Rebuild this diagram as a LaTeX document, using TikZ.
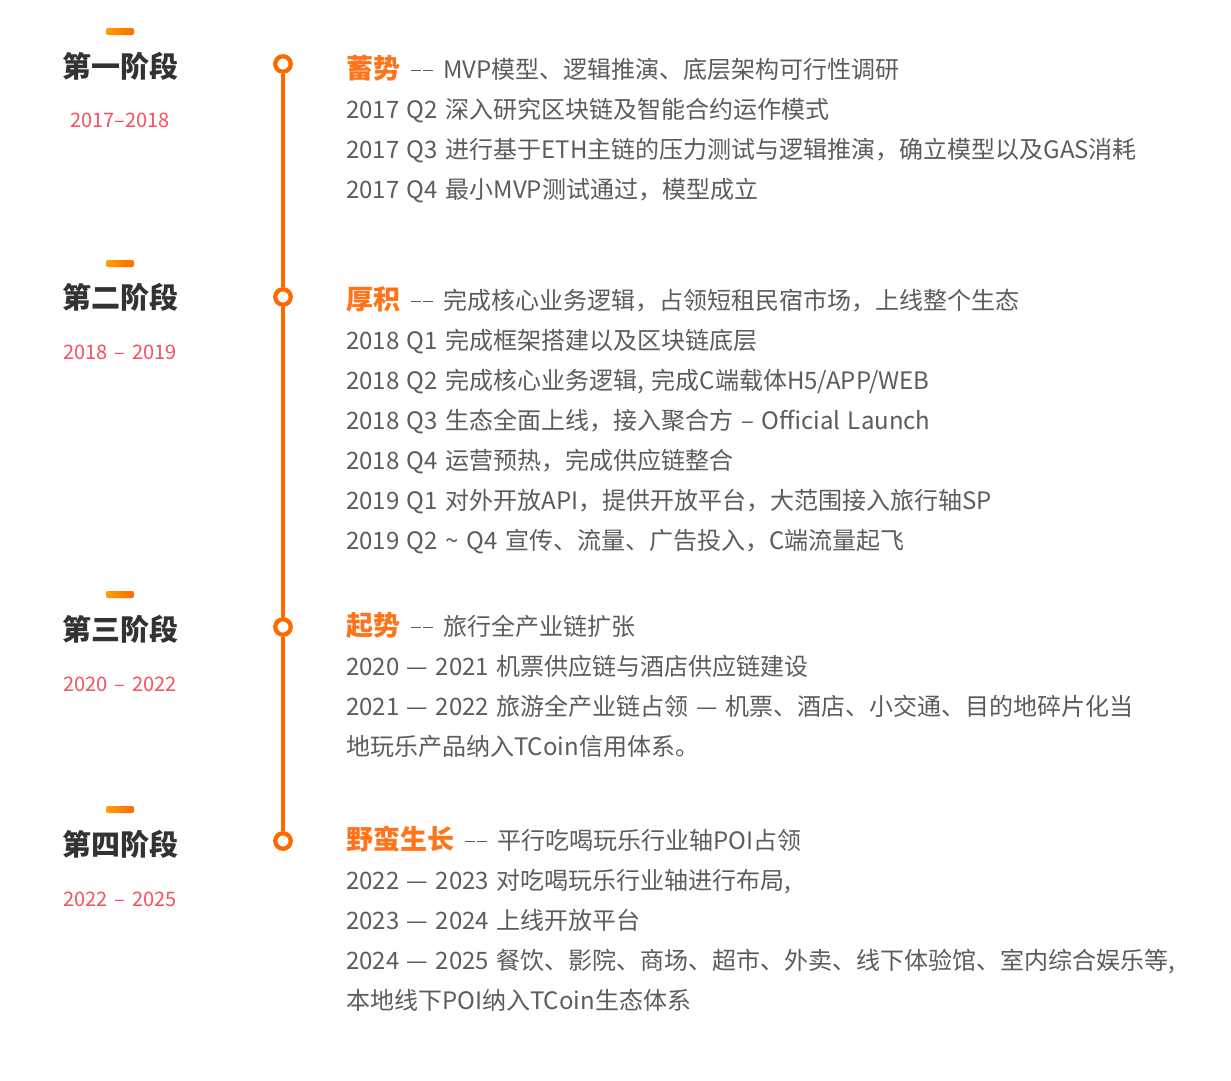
\documentclass[tikz,border=0pt]{standalone}
\usepackage{fontspec}
\setmainfont{Noto Sans CJK SC}
\definecolor{lineorange}{HTML}{FF6A00}
\definecolor{barleft}{HTML}{FFA000}
\definecolor{barright}{HTML}{FF6A00}
\definecolor{headorange}{HTML}{FF7418}
\definecolor{titlegray}{HTML}{333333}
\definecolor{yearred}{HTML}{F5515F}
\definecolor{bodygray}{HTML}{5C5C5C}
\newcommand{\headword}[1]{\textcolor{headorange}{\fontsize{27}{27}\selectfont\bfseries #1}\hspace{11pt}\rule[6.6pt]{10pt}{1.4pt}\hspace{2pt}\rule[6.6pt]{10pt}{1.4pt}\hspace{10pt}}

\begin{document}
\begin{tikzpicture}[x=1pt, y=-1pt,
    stagetitle/.style={anchor=base, inner sep=0, text=titlegray, font=\fontsize{29}{29}\selectfont\bfseries},
    yearlabel/.style={anchor=base, inner sep=0, text=yearred, font={\fontsize{20}{20}\selectfont\spaceskip=7pt plus 1pt}},
    dot/.style={circle, draw=lineorange, line width=4.3pt, fill=white, minimum size=15.5pt, inner sep=0},
    rail/.style={draw=lineorange, line width=4pt},
    item/.style={anchor=base west, inner sep=0, text=bodygray, font={\fontsize{24}{24}\selectfont\spaceskip=7.5pt plus 1pt}},
]
\useasboundingbox[fill=white] (0,0) rectangle (1231,1080);

% left column: bars, stage names, years
\shade[left color=barleft, right color=barright, rounded corners=2pt] (106,28) rectangle (134,35);
\node[stagetitle] (title1) at (120,77) {第一阶段};
\node[yearlabel] (year1) at (120,127) {2017–2018};

\shade[left color=barleft, right color=barright, rounded corners=2pt] (106,260) rectangle (134,267);
\node[stagetitle] (title2) at (120,308) {第二阶段};
\node[yearlabel] (year2) at (120,359) {2018 – 2019};

\shade[left color=barleft, right color=barright, rounded corners=2pt] (106,591) rectangle (134,598);
\node[stagetitle] (title3) at (120,640) {第三阶段};
\node[yearlabel] (year3) at (120,691) {2020 – 2022};

\shade[left color=barleft, right color=barright, rounded corners=2pt] (106,806) rectangle (134,813);
\node[stagetitle] (title4) at (120,855) {第四阶段};
\node[yearlabel] (year4) at (120,906) {2022 – 2025};

% timeline
\node[dot] (dot1) at (283,64) {};
\node[dot] (dot2) at (283,297) {};
\node[dot] (dot3) at (283,627) {};
\node[dot] (dot4) at (283,841) {};
\draw[rail] (dot1) -- (dot2);
\draw[rail] (dot2) -- (dot3);
\draw[rail] (dot3) -- (dot4);

% stage 1
\node[item] (s1h) at (346,78) {\headword{蓄势}MVP模型、逻辑推演、底层架构可行性调研};
\node[item] (s1a) at (346,118) {2017 Q2 深入研究区块链及智能合约运作模式};
\node[item] (s1b) at (346,158) {2017 Q3 进行基于ETH主链的压力测试与逻辑推演，确立模型以及GAS消耗};
\node[item] (s1c) at (346,198) {2017 Q4 最小MVP测试通过，模型成立};

% stage 2
\node[item] (s2h) at (346,309) {\headword{厚积}完成核心业务逻辑，占领短租民宿市场，上线整个生态};
\node[item] (s2a) at (346,349) {2018 Q1 完成框架搭建以及区块链底层};
\node[item] (s2b) at (346,389) {2018 Q2 完成核心业务逻辑, 完成C端载体H5/APP/WEB};
\node[item] (s2c) at (346,429) {2018 Q3 生态全面上线，接入聚合方 – Official Launch};
\node[item] (s2d) at (346,469) {2018 Q4 运营预热，完成供应链整合};
\node[item] (s2e) at (346,509) {2019 Q1 对外开放API，提供开放平台，大范围接入旅行轴SP};
\node[item] (s2f) at (346,549) {2019 Q2 \textasciitilde{} Q4 宣传、流量、广告投入，C端流量起飞};

% stage 3
\node[item] (s3h) at (346,635) {\headword{起势}旅行全产业链扩张};
\node[item] (s3a) at (346,675) {2020 — 2021 机票供应链与酒店供应链建设};
\node[item] (s3b) at (346,715) {2021 — 2022 旅游全产业链占领 — 机票、酒店、小交通、目的地碎片化当};
\node[item] (s3c) at (346,755) {地玩乐产品纳入TCoin信用体系。};

% stage 4
\node[item] (s4h) at (346,849) {\headword{野蛮生长}平行吃喝玩乐行业轴POI占领};
\node[item] (s4a) at (346,889) {2022 — 2023 对吃喝玩乐行业轴进行布局,};
\node[item] (s4b) at (346,929) {2023 — 2024 上线开放平台};
\node[item] (s4c) at (346,969) {2024 — 2025 餐饮、影院、商场、超市、外卖、线下体验馆、室内综合娱乐等,};
\node[item] (s4d) at (346,1009) {本地线下POI纳入TCoin生态体系};
\end{tikzpicture}
\end{document}
